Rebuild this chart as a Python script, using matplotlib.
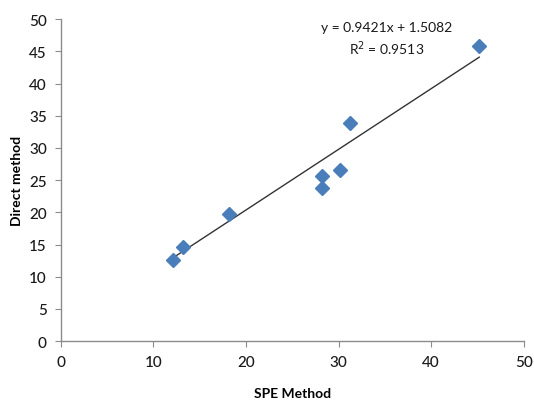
import matplotlib
matplotlib.use("Agg")
import matplotlib.pyplot as plt
import numpy as np

plt.rcParams['font.family'] = ['Lato', 'DejaVu Sans']

spe = [12.1, 13.2, 18.2, 28.2, 28.2, 30.2, 31.2, 45.2]
direct = [12.6, 14.6, 19.7, 23.7, 25.7, 26.6, 33.8, 45.9]
slope = 0.9421
intercept = 1.5082
r2 = 0.9513
xticks = [0, 10, 20, 30, 40, 50]
yticks = [0, 5, 10, 15, 20, 25, 30, 35, 40, 45, 50]

fig = plt.figure(figsize=(5.34, 4.02), dpi=100)
ax = fig.add_axes([0.1137, 0.149, 0.867, 0.801])

ax.plot(spe, direct, linestyle='none', marker='D', markersize=7,
        color='#4A7EBB', markeredgecolor='#4A7EBB', zorder=3)
xl = np.array([min(spe), max(spe)])
ax.plot(xl, slope * xl + intercept, color='#333333', linewidth=1.0, zorder=2)

ax.set_xlim(0, 50)
ax.set_ylim(0, 50)
ax.set_xticks(xticks)
ax.set_yticks(yticks)
for s in ['top', 'right']:
    ax.spines[s].set_visible(False)
for s in ['left', 'bottom']:
    ax.spines[s].set_color('#8c8c8c')
    ax.spines[s].set_linewidth(1.0)
ax.tick_params(axis='both', direction='out', length=4, color='#8c8c8c',
               labelsize=11, labelcolor='#1a1a1a', pad=6)
for lab in ax.get_xticklabels() + ax.get_yticklabels():
    lab.set_fontweight('medium')

ax.set_xlabel('SPE Method', fontsize=10, fontweight='bold', labelpad=13)
ax.set_ylabel('Direct method', fontsize=10, fontweight='bold', labelpad=4)

ax.text(0.705, 0.975, f'y = {slope}x + {intercept}', transform=ax.transAxes,
        ha='center', va='center', fontsize=10, color='#1a1a1a')
ax.text(0.705, 0.912, f'R$^2$ = {r2}', transform=ax.transAxes,
        ha='center', va='center', fontsize=10, color='#1a1a1a')

fig.savefig('out.png', dpi=100)
